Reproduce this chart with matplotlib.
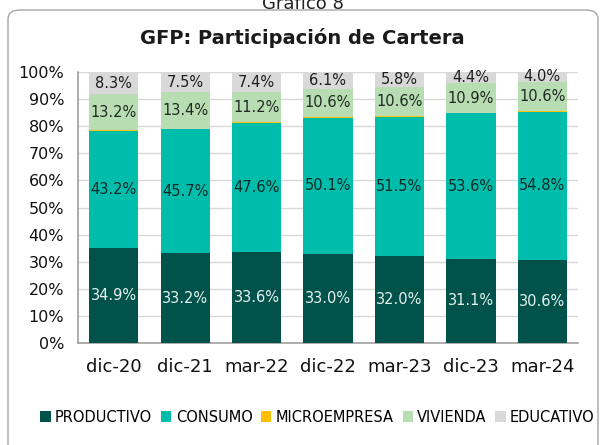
import matplotlib
matplotlib.use("Agg")
import matplotlib.pyplot as plt
from matplotlib.patches import FancyBboxPatch
import numpy as np

categories = ["dic-20", "dic-21", "mar-22", "dic-22", "mar-23", "dic-23", "mar-24"]
productivo = [34.9, 33.2, 33.6, 33.0, 32.0, 31.1, 30.6]
consumo = [43.2, 45.7, 47.6, 50.1, 51.5, 53.6, 54.8]
microempresa = [0.4, 0.2, 0.2, 0.2, 0.2, 0.2, 0.2]
vivienda = [13.2, 13.4, 11.2, 10.6, 10.6, 10.9, 10.6]
educativo = [8.3, 7.5, 7.4, 6.1, 5.8, 4.4, 4.0]

series = [
    ("PRODUCTIVO", productivo, "#00524A", "#E6F2EE", True),
    ("CONSUMO", consumo, "#00BCAA", "#0E2A28", True),
    ("MICROEMPRESA", microempresa, "#FFC000", None, False),
    ("VIVIENDA", vivienda, "#B9DDB3", "#1E2A22", True),
    ("EDUCATIVO", educativo, "#D9D9D9", "#1E1E1E", True),
]

fig = plt.figure(figsize=(6.05, 4.45), dpi=100)
fig.patch.set_facecolor("white")

# outer rounded frame
frame = FancyBboxPatch((8 / 605, -0.05), 590 / 605, 1 - 10 / 445 + 0.05,
                       boxstyle="round,pad=0,rounding_size=0.02",
                       transform=fig.transFigure, fill=False,
                       edgecolor="#A6A6A6", linewidth=1.0)
fig.patches.append(frame)

fig.text(0.5, 1.0 + 0.012, "Gráfico 8", ha="center", va="top", fontsize=13, color="#222222")
fig.text(0.5, 1 - 38 / 445, "GFP: Participación de Cartera", ha="center", va="center",
         fontsize=14, fontweight="bold", color="#1a1a1a")

ax = fig.add_axes([78 / 605, 1 - 343 / 445, 500 / 605, (343 - 72) / 445])
x = np.arange(len(categories))
bottom = np.zeros(len(categories))
handles = []
for name, vals, color, tcolor, show in series:
    vals = np.array(vals, dtype=float)
    b = ax.bar(x, vals, bottom=bottom, width=0.69, color=color, label=name, zorder=3)
    handles.append(b)
    if show:
        for xi, v, bt in zip(x, vals, bottom):
            ax.text(xi, bt + v / 2, f"{v:.1f}%", ha="center", va="center",
                    fontsize=10.5, color=tcolor, zorder=4)
    bottom += vals

ax.set_xlim(-0.5, len(categories) - 0.5)
ax.set_ylim(0, 100)
ax.set_yticks(np.arange(0, 101, 10))
ax.set_yticklabels([f"{v}%" for v in range(0, 101, 10)], fontsize=11.5, color="#111111")
ax.set_xticks(x)
ax.set_xticklabels(categories, fontsize=13, color="#111111")
ax.tick_params(axis="y", length=0, pad=10)
ax.tick_params(axis="x", length=0, pad=11)
ax.grid(axis="y", color="#D9D9D9", linewidth=1.0, zorder=0)
for s in ["top", "right"]:
    ax.spines[s].set_visible(False)
for s in ["left", "bottom"]:
    ax.spines[s].set_color("#A0A0A0")
    ax.spines[s].set_linewidth(1.2)

fig.legend(handles=handles, labels=[s[0] for s in series], loc="center",
           bbox_to_anchor=(0.525, 1 - 417 / 445), ncol=5, frameon=False,
           fontsize=10.5, handlelength=0.7, handleheight=0.7, handletextpad=0.3,
           columnspacing=0.6)

fig.savefig("out.png", dpi=100)
